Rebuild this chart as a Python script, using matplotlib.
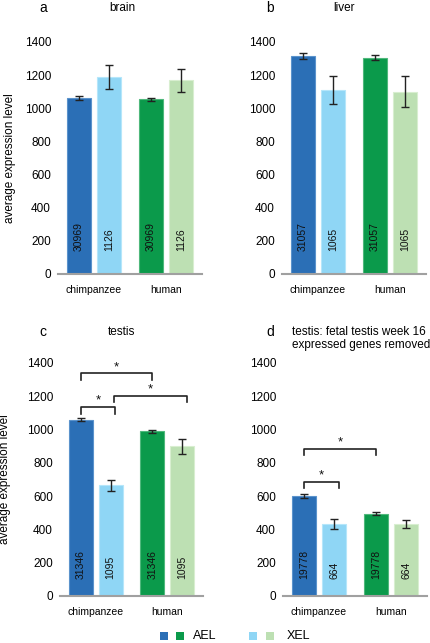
import matplotlib
matplotlib.use("Agg")
import matplotlib.pyplot as plt
from matplotlib.patches import Rectangle

plt.rcParams['font.family'] = ['Liberation Sans', 'DejaVu Sans']

# data
species = ['chimpanzee', 'human']
series = ['AEL', 'XEL']
panel_ids = ['a', 'b', 'c', 'd']
panel_titles = ['brain', 'liver', 'testis', 'testis: fetal testis week 16\nexpressed genes removed']

# order per panel: chimp AEL, chimp XEL, human AEL, human XEL
means = {
    'a': [1060, 1190, 1055, 1168],
    'b': [1315, 1110, 1305, 1100],
    'c': [1060, 665, 990, 900],
    'd': [600, 430, 495, 432],
}
errors = {
    'a': [12, 73, 10, 70],
    'b': [20, 86, 15, 93],
    'c': [10, 35, 8, 45],
    'd': [10, 30, 8, 22],
}
gene_counts = {
    'a': ['30969', '1126', '30969', '1126'],
    'b': ['31057', '1065', '31057', '1065'],
    'c': ['31346', '1095', '31346', '1095'],
    'd': ['19778', '664', '19778', '664'],
}
# significance brackets: (bar i, bar j, bracket height)
brackets = {
    'c': [(0, 2, 1338), (1, 3, 1203), (0, 1, 1134)],
    'd': [(0, 2, 883), (0, 1, 687)],
}

colors = ['#2b6fb6', '#8fd6f5', '#0b9a4b', '#bde0b3']
edges = ['#5b93cc', '#b5e6fa', '#4fb87c', '#d8eed0']
xpos = [0, 1, 2.4, 3.4]

W, H = 430, 643
fig = plt.figure(figsize=(W / 100, H / 100), dpi=100)

# axes boxes in pixels: left, right, y of 1400, y of 0
boxes = {
    'a': (58, 202, 42, 274),
    'b': (282, 426, 42, 274),
    'c': (60, 203, 363, 596),
    'd': (283, 427, 363, 596),
}
num_bottom = {'a': 140, 'b': 140, 'c': 102, 'd': 102}
ylab_x = {'a': 16, 'c': 11}

for pid, title in zip(panel_ids, panel_titles):
    l, r, t, b = boxes[pid]
    ax = fig.add_axes([l / W, 1 - b / H, (r - l) / W, (b - t) / H])
    ax.bar(xpos, means[pid], width=0.8, color=colors, edgecolor=edges, linewidth=0.8, zorder=2)
    ax.errorbar(xpos, means[pid], yerr=errors[pid], fmt='none', ecolor='#222222',
                elinewidth=1, capsize=3, capthick=1, zorder=3)
    for x, txt in zip(xpos, gene_counts[pid]):
        ax.text(x, num_bottom[pid], txt, rotation=90, ha='center', va='bottom',
                fontsize=7.5, color='#111111', zorder=4)
    for i, j, h in brackets.get(pid, []):
        x1 = xpos[i] + (0.12 if i == 1 else 0)
        x2 = xpos[j] + (0.15 if j in (1, 3) else 0)
        ax.plot([x1, x1, x2, x2], [h - 38, h, h, h - 38], color='#222222', lw=1.2,
                clip_on=False, zorder=4)
        ax.text((x1 + x2) / 2, h + 2, '*', ha='center', va='bottom', fontsize=9.5,
                color='#111111')
    ax.set_xlim(-0.7, 4.1)
    ax.set_ylim(0, 1400)
    ax.set_yticks(range(0, 1401, 200))
    ax.set_xticks([0.5, 2.9])
    ax.set_xticklabels(species, fontsize=7.5)
    ax.tick_params(axis='y', length=0, labelsize=8.5, pad=5)
    ax.tick_params(axis='x', length=0, pad=8)
    for s in ['top', 'right', 'left']:
        ax.spines[s].set_visible(False)
    ax.spines['bottom'].set_color('#a0a0a0')
    ax.spines['bottom'].set_linewidth(1.5)
    ax.spines['bottom'].set_zorder(5)
    if pid in ylab_x:
        ax.set_ylabel('average expression level', fontsize=8.5)
        ax.yaxis.set_label_coords((ylab_x[pid] - l) / (r - l), 0.5)

# panel letters and titles
ty = {'a': 8, 'b': 8, 'c': 332, 'd': 332}
lx = {'a': 43, 'b': 270, 'c': 43, 'd': 270}
for pid, title in zip(panel_ids, panel_titles):
    fig.text(lx[pid] / W, 1 - ty[pid] / H, pid, fontsize=10, ha='center', va='center')
for pid, cx in [('a', 122), ('b', 344), ('c', 122)]:
    fig.text(cx / W, 1 - ty[pid] / H, panel_titles[panel_ids.index(pid)], fontsize=8.5,
             ha='center', va='center')
fig.text(291.5 / W, 1 - 326 / H, panel_titles[3], fontsize=8.5, ha='left', va='top',
         linespacing=1.1)

# legend
ly = 1 - 636 / H
sq = 8
for x0, c in [(160, colors[0]), (176, colors[2]), (249, colors[1]), (266, colors[3])]:
    fig.patches.append(Rectangle((x0 / W, ly - sq / 2 / H), sq / W, sq / H,
                                 transform=fig.transFigure, facecolor=c, edgecolor='none'))
fig.text(193 / W, ly, series[0], fontsize=9, ha='left', va='center')
fig.text(287 / W, ly, series[1], fontsize=9, ha='left', va='center')

fig.savefig('out.png', dpi=100)
